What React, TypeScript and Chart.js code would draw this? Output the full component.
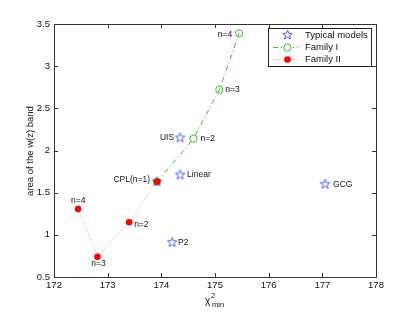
import React, { useEffect, useRef } from "react";
import { Chart, registerables } from "chart.js";

Chart.register(...registerables);

const xTicks = [172, 173, 174, 175, 176, 177, 178];
const yTicks = [0.5, 1, 1.5, 2, 2.5, 3, 3.5];

const typicalNames = ["UIS", "Linear", "P2", "GCG", "CPL"];
const typicalX = [174.35, 174.35, 174.2, 177.05, 173.92];
const typicalY = [2.15, 1.71, 0.91, 1.6, 1.63];

const familyINames = ["n=1", "n=2", "n=3", "n=4"];
const familyIX = [173.92, 174.6, 175.08, 175.45];
const familyIY = [1.63, 2.14, 2.72, 3.39];

const familyIINames = ["n=1", "n=2", "n=3", "n=4"];
const familyIIX = [173.92, 173.4, 172.81, 172.45];
const familyIIY = [1.63, 1.15, 0.74, 1.305];

const legendLabels = ["Typical models", "Family I", "Family II"];

const BLUE = "rgb(70,90,255)";
const GREEN = "rgb(60,185,40)";
const RED = "rgb(255,0,0)";
const FONT = "'Liberation Sans', Arial, Helvetica, sans-serif";

function makeStar(): HTMLCanvasElement {
  const c = document.createElement("canvas");
  c.width = 13;
  c.height = 13;
  const ctx = c.getContext("2d")!;
  drawStar(ctx, 6.5, 6.5, 5, 2.1);
  return c;
}

function drawStar(ctx: CanvasRenderingContext2D, cx: number, cy: number, ro: number, ri: number) {
  ctx.save();
  ctx.beginPath();
  for (let i = 0; i < 10; i++) {
    const r = i % 2 === 0 ? ro : ri;
    const a = -Math.PI / 2 + (i * Math.PI) / 5;
    const px = cx + r * Math.cos(a);
    const py = cy + r * Math.sin(a);
    if (i === 0) ctx.moveTo(px, py);
    else ctx.lineTo(px, py);
  }
  ctx.closePath();
  ctx.strokeStyle = BLUE;
  ctx.lineWidth = 1;
  ctx.stroke();
  ctx.restore();
}

// annotations: [dataset index, point index, text, dx, dy, align]
const annotations: [number, number, string, number, number, CanvasTextAlign][] = [
  [0, 0, typicalNames[0], -6, 0, "right"],
  [0, 1, typicalNames[1], 7, 0, "left"],
  [0, 2, typicalNames[2], 6, 0, "left"],
  [0, 3, typicalNames[3], 8, 0, "left"],
  [1, 0, "CPL(" + familyINames[0] + ")", -7, -2, "right"],
  [1, 1, familyINames[1], 7, 0, "left"],
  [1, 2, familyINames[2], 6, 0, "left"],
  [1, 3, familyINames[3], -7, 1, "right"],
  [2, 1, familyIINames[1], 5, 2, "left"],
  [2, 2, familyIINames[2], 1, 7, "center"],
  [2, 3, familyIINames[3], 0, -8, "center"],
];

const framePlugin = {
  id: "matlabFrame",
  afterDatasetsDraw(chart: any) {
    const ctx = chart.ctx as CanvasRenderingContext2D;
    const { left, right, top, bottom } = chart.chartArea;
    const xs = chart.scales.x;
    const ys = chart.scales.y;
    ctx.save();
    ctx.strokeStyle = "#333";
    ctx.lineWidth = 1;
    ctx.beginPath();
    xTicks.forEach((v) => {
      const px = Math.round(xs.getPixelForValue(v)) + 0.5;
      ctx.moveTo(px, bottom);
      ctx.lineTo(px, bottom - 4);
      ctx.moveTo(px, top);
      ctx.lineTo(px, top + 4);
    });
    yTicks.forEach((v) => {
      const py = Math.round(ys.getPixelForValue(v)) + 0.5;
      ctx.moveTo(left, py);
      ctx.lineTo(left + 4, py);
      ctx.moveTo(right, py);
      ctx.lineTo(right - 4, py);
    });
    ctx.stroke();
    ctx.strokeRect(Math.round(left) + 0.5, Math.round(top) + 0.5, Math.round(right - left), Math.round(bottom - top));

    // annotations
    ctx.fillStyle = "#111";
    ctx.font = "8.5px " + FONT;
    ctx.textBaseline = "middle";
    annotations.forEach(([di, pi, text, dx, dy, align]) => {
      const el = chart.getDatasetMeta(di).data[pi];
      ctx.textAlign = align;
      ctx.fillText(text, el.x + dx, el.y + dy);
    });

    // legend
    const lx = 268, ly = 28, lw = 103, lh = 38;
    ctx.fillStyle = "#fff";
    ctx.fillRect(lx, ly, lw, lh);
    ctx.strokeStyle = "#222";
    ctx.strokeRect(lx + 0.5, ly + 0.5, lw, lh);
    const rows = [35, 47, 59];
    ctx.font = "9.5px " + FONT;
    ctx.textAlign = "left";
    ctx.fillStyle = "#111";
    legendLabels.forEach((t, i) => ctx.fillText(t, 305, rows[i]));
    drawStar(ctx, 287.5, rows[0], 5, 2.1);
    ctx.lineWidth = 1;
    ctx.strokeStyle = GREEN;
    ctx.setLineDash([5, 3, 1, 3]);
    ctx.beginPath();
    ctx.moveTo(273, rows[1] + 0.5);
    ctx.lineTo(298, rows[1] + 0.5);
    ctx.stroke();
    ctx.setLineDash([]);
    ctx.beginPath();
    ctx.arc(287.5, rows[1] + 0.5, 3.6, 0, Math.PI * 2);
    ctx.fillStyle = "#fff";
    ctx.fill();
    ctx.stroke();
    ctx.strokeStyle = "rgba(255,0,0,0.45)";
    ctx.setLineDash([1, 2]);
    ctx.beginPath();
    ctx.moveTo(273, rows[2] + 0.5);
    ctx.lineTo(298, rows[2] + 0.5);
    ctx.stroke();
    ctx.setLineDash([]);
    ctx.beginPath();
    ctx.arc(287.5, rows[2] + 0.5, 3.3, 0, Math.PI * 2);
    ctx.fillStyle = RED;
    ctx.fill();

    // axis titles
    ctx.fillStyle = "#111";
    ctx.font = "9.5px " + FONT;
    ctx.save();
    ctx.translate(30, 151);
    ctx.rotate(-Math.PI / 2);
    ctx.textAlign = "center";
    ctx.textBaseline = "middle";
    ctx.fillText("area of the w(z) band", 0, 0);
    ctx.restore();
    ctx.textAlign = "left";
    ctx.textBaseline = "alphabetic";
    ctx.font = "10px " + FONT;
    ctx.fillText("χ", 205, 304);
    ctx.font = "7.5px " + FONT;
    ctx.fillText("2", 211, 298);
    ctx.fillText("min", 212, 307);
    ctx.restore();
  },
};

export default function App() {
  const ref = useRef<HTMLCanvasElement>(null);
  useEffect(() => {
    document.body.style.margin = "0";
    const star = makeStar();
    const chart = new Chart(ref.current!, {
      type: "scatter",
      data: {
        datasets: [
          {
            label: legendLabels[0],
            data: typicalX.map((x, i) => ({ x, y: typicalY[i] })),
            pointStyle: star as any,
            showLine: false,
            order: 3,
          },
          {
            label: legendLabels[1],
            data: familyIX.map((x, i) => ({ x, y: familyIY[i] })),
            showLine: true,
            borderColor: GREEN,
            borderWidth: 1,
            borderDash: [5, 3, 1, 3],
            pointStyle: "circle",
            pointRadius: 3.6,
            pointBorderColor: GREEN,
            pointBackgroundColor: "rgba(255,255,255,0)",
            pointBorderWidth: 1,
            order: 2,
          },
          {
            label: legendLabels[2],
            data: familyIIX.map((x, i) => ({ x, y: familyIIY[i] })),
            showLine: true,
            borderColor: "rgba(255,0,0,0.45)",
            borderWidth: 1,
            borderDash: [1, 2],
            pointStyle: "circle",
            pointRadius: 3.3,
            pointBorderWidth: 0,
            pointBackgroundColor: RED,
            pointBorderColor: RED,
            order: 1,
          },
        ],
      },
      options: {
        responsive: false,
        animation: false,
        events: [],
        layout: { padding: { top: 24, right: 39, left: 0, bottom: 0 } },
        plugins: { legend: { display: false }, tooltip: { enabled: false } },
        scales: {
          x: {
            type: "linear",
            min: 172,
            max: 178,
            afterBuildTicks: (s: any) => {
              s.ticks = xTicks.map((v) => ({ value: v }));
            },
            afterFit: (s: any) => {
              s.height = 35;
            },
            ticks: {
              color: "#111",
              font: { size: 9.5, family: FONT },
              padding: 3,
              maxRotation: 0,
              callback: (v: any) => String(v),
            },
            grid: { display: false, drawTicks: false },
            border: { display: false },
          },
          y: {
            type: "linear",
            min: 0.5,
            max: 3.5,
            afterBuildTicks: (s: any) => {
              s.ticks = yTicks.map((v) => ({ value: v }));
            },
            afterFit: (s: any) => {
              s.width = 54;
            },
            ticks: {
              color: "#111",
              font: { size: 9.5, family: FONT },
              padding: 4,
              callback: (v: any) => String(v),
            },
            grid: { display: false, drawTicks: false },
            border: { display: false },
          },
        },
      },
      plugins: [framePlugin],
    });
    return () => chart.destroy();
  }, []);
  return (
    <div style={{ width: 415, height: 312 }}>
      <canvas ref={ref} width={415} height={312} />
    </div>
  );
}
